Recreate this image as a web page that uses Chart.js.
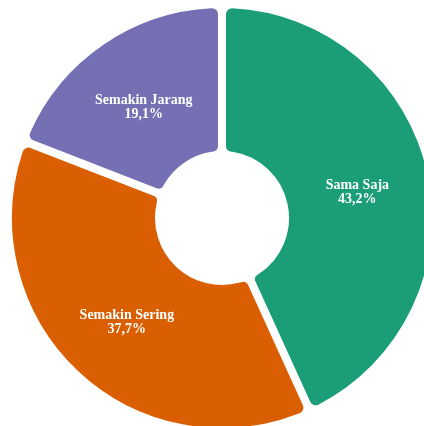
<!DOCTYPE html>
<html>
<head>
<meta charset="utf-8">
<script src="https://cdn.jsdelivr.net/npm/chart.js@4"></script>
<style>
  html, body { margin: 0; padding: 0; background: #fff; overflow: hidden; width: 424px; height: 426px; }
  #wrap { position: absolute; left: 4px; top: 0px; width: 436px; height: 436px; }
</style>
</head>
<body>
<div id="wrap"><canvas id="donut" width="436" height="436"></canvas></div>
<script>
// Dados do gráfico
const categorias = ['Sama Saja', 'Semakin Sering', 'Semakin Jarang'];
const valores = [43.2, 37.7, 19.1];
const rotulos = ['43,2%', '37,7%', '19,1%'];
const cores = ['#1b9e77', '#d95f02', '#7570b3'];

// Plugin simples para escrever os rótulos dentro das fatias
const labelPlugin = {
    id: 'sliceLabels',
    afterDatasetsDraw(chart) {
        const ctx = chart.ctx;
        const meta = chart.getDatasetMeta(0);
        ctx.save();
        ctx.fillStyle = '#ffffff';
        ctx.textAlign = 'center';
        ctx.textBaseline = 'middle';
        ctx.font = 'bold 14px "Liberation Serif", "DejaVu Serif", serif';
        meta.data.forEach((arc, i) => {
            const p = arc.getProps(['x', 'y', 'startAngle', 'endAngle', 'innerRadius', 'outerRadius'], true);
            const mid = (p.startAngle + p.endAngle) / 2;
            const r = (p.innerRadius + p.outerRadius) / 2;
            const x = p.x + Math.cos(mid) * r;
            const y = p.y + Math.sin(mid) * r;
            ctx.fillText(categorias[i], x, y - 3);
            ctx.fillText(rotulos[i], x, y + 11);
        });
        ctx.restore();
    }
};

const ctx = document.getElementById('donut').getContext('2d');
new Chart(ctx, {
    type: 'doughnut',
    data: {
        labels: categorias,
        datasets: [{
            data: valores,
            backgroundColor: cores,
            borderColor: '#ffffff',
            borderWidth: 8,
            borderRadius: 10,
            hoverOffset: 0
        }]
    },
    options: {
        responsive: false,
        animation: false,
        cutout: 63,
        layout: { padding: 0 },
        plugins: {
            legend: { display: false },
            tooltip: { enabled: false }
        }
    },
    plugins: [labelPlugin]
});
</script>
</body>
</html>
